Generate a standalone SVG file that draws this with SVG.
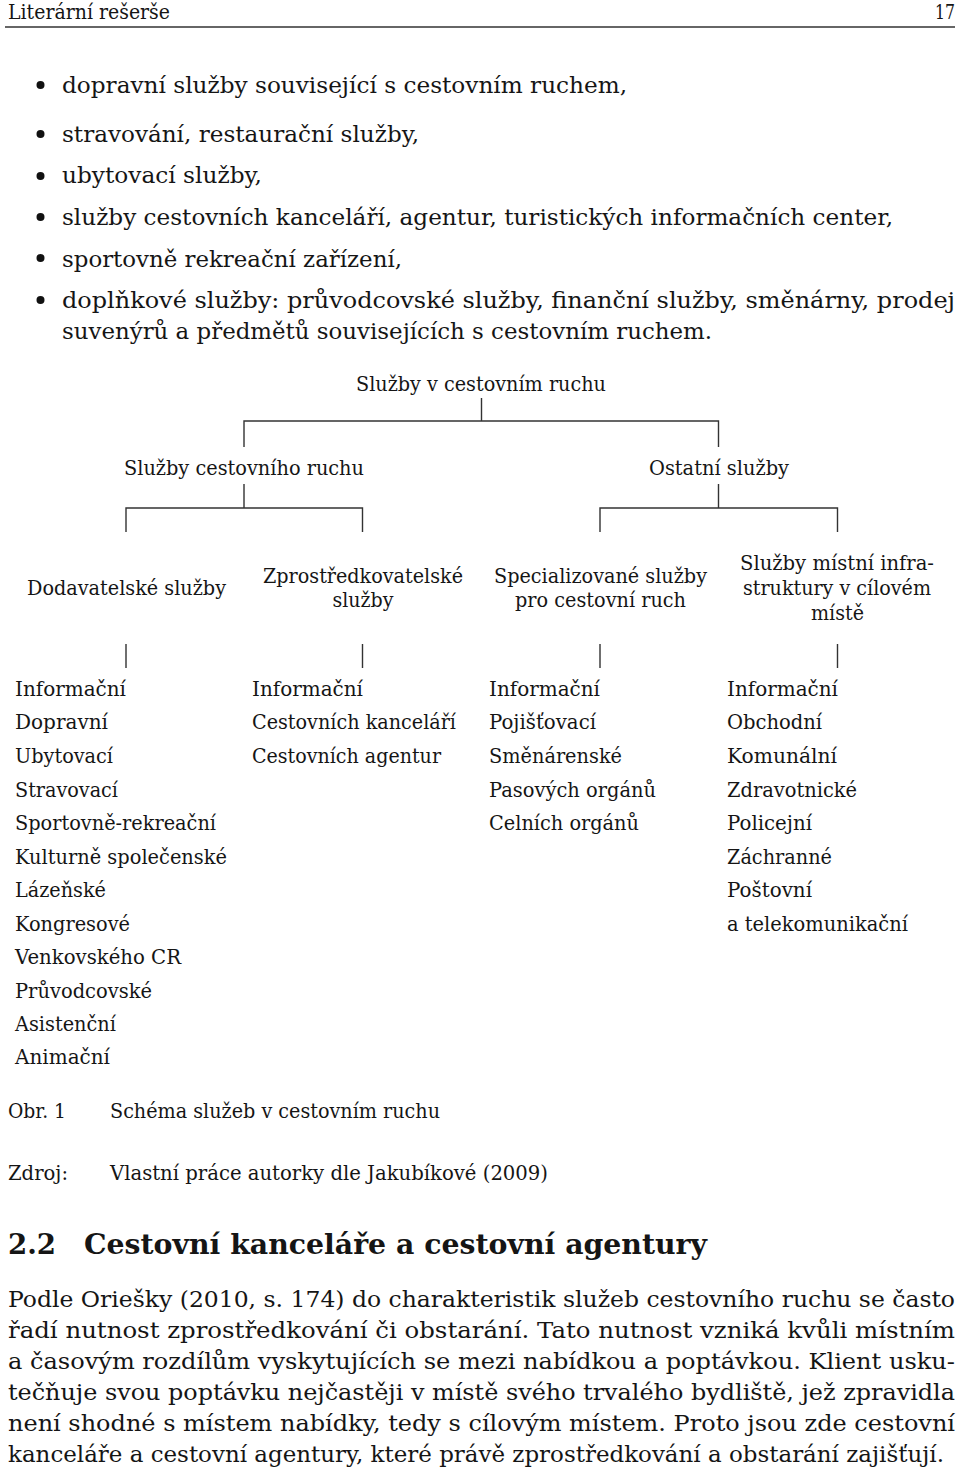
<svg xmlns="http://www.w3.org/2000/svg" width="960" height="1470" viewBox="0 0 960 1470">
<style>
text{font-family:"DejaVu Serif","Liberation Serif",serif;fill:#151515}
.hd{font-size:21px}
.b{font-size:23px}
.d{font-size:19.5px}
.dc{font-size:19.5px;text-anchor:middle}
.l{font-size:19.5px}
.h2{font-size:28px;font-weight:bold}
.p{font-size:23px}
.ln{stroke:#333;stroke-width:1.4;fill:none}
</style>
<rect width="960" height="1470" fill="#fff"/>
<g id="header">
<text class="hd" x="8" y="19" textLength="162" lengthAdjust="spacingAndGlyphs">Literární rešerše</text>
<text class="hd" x="955" y="19" text-anchor="end" textLength="20" lengthAdjust="spacingAndGlyphs">17</text>
<line x1="5" y1="27" x2="955" y2="27" stroke="#333" stroke-width="1.6"/>
</g>
<g id="bullets">
<circle cx="40.5" cy="85" r="4" fill="#111"/>
<circle cx="40.5" cy="134" r="4" fill="#111"/>
<circle cx="40.5" cy="176" r="4" fill="#111"/>
<circle cx="40.5" cy="217" r="4" fill="#111"/>
<circle cx="40.5" cy="258" r="4" fill="#111"/>
<circle cx="40.5" cy="300" r="4" fill="#111"/>
<text class="b" x="62" y="93" textLength="565" lengthAdjust="spacingAndGlyphs">dopravní služby související s cestovním ruchem,</text>
<text class="b" x="62" y="142" textLength="357" lengthAdjust="spacingAndGlyphs">stravování, restaurační služby,</text>
<text class="b" x="62" y="183" textLength="200" lengthAdjust="spacingAndGlyphs">ubytovací služby,</text>
<text class="b" x="62" y="225" textLength="831" lengthAdjust="spacingAndGlyphs">služby cestovních kanceláří, agentur, turistických informačních center,</text>
<text class="b" x="62" y="267" textLength="340" lengthAdjust="spacingAndGlyphs">sportovně rekreační zařízení,</text>
<text class="b" x="62" y="308" textLength="893" lengthAdjust="spacingAndGlyphs">doplňkové služby: průvodcovské služby, finanční služby, směnárny, prodej</text>
<text class="b" x="62" y="339" textLength="650" lengthAdjust="spacingAndGlyphs">suvenýrů a předmětů souvisejících s cestovním ruchem.</text>
</g>
<g id="connectors">
<path class="ln" d="M481.5 398V421M244 447V421H718.5V447"/>
<path class="ln" d="M244 484V508M126 532V508H362.5V532"/>
<path class="ln" d="M718.5 484V508M600 532V508H837.5V532"/>
<path class="ln" d="M126 644V668M362.5 644V668M600 644V668M837.5 644V668"/>
</g>
<g id="root">
<text class="dc" x="481" y="391" textLength="250" lengthAdjust="spacingAndGlyphs">Služby v cestovním ruchu</text>
</g>
<g id="n-cr">
<text class="dc" x="244" y="475" textLength="240" lengthAdjust="spacingAndGlyphs">Služby cestovního ruchu</text>
</g>
<g id="n-ostatni">
<text class="dc" x="719" y="475" textLength="140" lengthAdjust="spacingAndGlyphs">Ostatní služby</text>
</g>
<g id="n-dodavatelske">
<text class="dc" x="126.5" y="595" textLength="199" lengthAdjust="spacingAndGlyphs">Dodavatelské služby</text>
</g>
<g id="n-zprostredkovatelske">
<text class="dc" x="363" y="583" textLength="200" lengthAdjust="spacingAndGlyphs">Zprostředkovatelské</text>
<text class="dc" x="363" y="607" textLength="61" lengthAdjust="spacingAndGlyphs">služby</text>
</g>
<g id="n-specializovane">
<text class="dc" x="600.5" y="583" textLength="213" lengthAdjust="spacingAndGlyphs">Specializované služby</text>
<text class="dc" x="600.5" y="607" textLength="171" lengthAdjust="spacingAndGlyphs">pro cestovní ruch</text>
</g>
<g id="n-mistni">
<text class="dc" x="837" y="570" textLength="194" lengthAdjust="spacingAndGlyphs">Služby místní infra-</text>
<text class="dc" x="837" y="595" textLength="188" lengthAdjust="spacingAndGlyphs">struktury v cílovém</text>
<text class="dc" x="837.5" y="620" textLength="53" lengthAdjust="spacingAndGlyphs">místě</text>
</g>
<g id="list-dodavatelske">
<text class="l" x="15" y="696" textLength="111" lengthAdjust="spacingAndGlyphs">Informační</text>
<text class="l" x="15" y="729" textLength="93" lengthAdjust="spacingAndGlyphs">Dopravní</text>
<text class="l" x="15" y="763" textLength="98" lengthAdjust="spacingAndGlyphs">Ubytovací</text>
<text class="l" x="15" y="797" textLength="103" lengthAdjust="spacingAndGlyphs">Stravovací</text>
<text class="l" x="15" y="830" textLength="201" lengthAdjust="spacingAndGlyphs">Sportovně-rekreační</text>
<text class="l" x="15" y="864" textLength="212" lengthAdjust="spacingAndGlyphs">Kulturně společenské</text>
<text class="l" x="15" y="897" textLength="91" lengthAdjust="spacingAndGlyphs">Lázeňské</text>
<text class="l" x="15" y="931" textLength="115" lengthAdjust="spacingAndGlyphs">Kongresové</text>
<text class="l" x="15" y="964" textLength="166" lengthAdjust="spacingAndGlyphs">Venkovského CR</text>
<text class="l" x="15" y="998" textLength="137" lengthAdjust="spacingAndGlyphs">Průvodcovské</text>
<text class="l" x="15" y="1031" textLength="101" lengthAdjust="spacingAndGlyphs">Asistenční</text>
<text class="l" x="15" y="1064" textLength="95" lengthAdjust="spacingAndGlyphs">Animační</text>
</g>
<g id="list-zprostredkovatelske">
<text class="l" x="252" y="696" textLength="111" lengthAdjust="spacingAndGlyphs">Informační</text>
<text class="l" x="252" y="729" textLength="204" lengthAdjust="spacingAndGlyphs">Cestovních kanceláří</text>
<text class="l" x="252" y="763" textLength="189" lengthAdjust="spacingAndGlyphs">Cestovních agentur</text>
</g>
<g id="list-specializovane">
<text class="l" x="489" y="696" textLength="111" lengthAdjust="spacingAndGlyphs">Informační</text>
<text class="l" x="489" y="729" textLength="107" lengthAdjust="spacingAndGlyphs">Pojišťovací</text>
<text class="l" x="489" y="763" textLength="133" lengthAdjust="spacingAndGlyphs">Směnárenské</text>
<text class="l" x="489" y="797" textLength="167" lengthAdjust="spacingAndGlyphs">Pasových orgánů</text>
<text class="l" x="489" y="830" textLength="150" lengthAdjust="spacingAndGlyphs">Celních orgánů</text>
</g>
<g id="list-mistni">
<text class="l" x="727" y="696" textLength="111" lengthAdjust="spacingAndGlyphs">Informační</text>
<text class="l" x="727" y="729" textLength="95" lengthAdjust="spacingAndGlyphs">Obchodní</text>
<text class="l" x="727" y="763" textLength="110" lengthAdjust="spacingAndGlyphs">Komunální</text>
<text class="l" x="727" y="797" textLength="130" lengthAdjust="spacingAndGlyphs">Zdravotnické</text>
<text class="l" x="727" y="830" textLength="85" lengthAdjust="spacingAndGlyphs">Policejní</text>
<text class="l" x="727" y="864" textLength="105" lengthAdjust="spacingAndGlyphs">Záchranné</text>
<text class="l" x="727" y="897" textLength="85" lengthAdjust="spacingAndGlyphs">Poštovní</text>
<text class="l" x="727" y="931" textLength="181" lengthAdjust="spacingAndGlyphs">a telekomunikační</text>
</g>
<g id="caption">
<text class="d" x="8" y="1118" textLength="58" lengthAdjust="spacingAndGlyphs">Obr. 1</text>
<text class="d" x="110" y="1118" textLength="330" lengthAdjust="spacingAndGlyphs">Schéma služeb v cestovním ruchu</text>
<text class="d" x="8" y="1180" textLength="60" lengthAdjust="spacingAndGlyphs">Zdroj:</text>
<text class="d" x="110" y="1180" textLength="438" lengthAdjust="spacingAndGlyphs">Vlastní práce autorky dle Jakubíkové (2009)</text>
</g>
<g id="heading">
<text class="h2" x="8" y="1254" textLength="48" lengthAdjust="spacingAndGlyphs">2.2</text>
<text class="h2" x="84" y="1254" textLength="623" lengthAdjust="spacingAndGlyphs">Cestovní kanceláře a cestovní agentury</text>
</g>
<g id="paragraph">
<text class="p" x="8" y="1307" textLength="947" lengthAdjust="spacingAndGlyphs">Podle Oriešky (2010, s. 174) do charakteristik služeb cestovního ruchu se často</text>
<text class="p" x="8" y="1338" textLength="947" lengthAdjust="spacingAndGlyphs">řadí nutnost zprostředkování či obstarání. Tato nutnost vzniká kvůli místním</text>
<text class="p" x="8" y="1369" textLength="947" lengthAdjust="spacingAndGlyphs">a časovým rozdílům vyskytujících se mezi nabídkou a poptávkou. Klient usku-</text>
<text class="p" x="8" y="1400" textLength="947" lengthAdjust="spacingAndGlyphs">tečňuje svou poptávku nejčastěji v místě svého trvalého bydliště, jež zpravidla</text>
<text class="p" x="8" y="1431" textLength="947" lengthAdjust="spacingAndGlyphs">není shodné s místem nabídky, tedy s cílovým místem. Proto jsou zde cestovní</text>
<text class="p" x="8" y="1462" textLength="936" lengthAdjust="spacingAndGlyphs">kanceláře a cestovní agentury, které právě zprostředkování a obstarání zajišťují.</text>
</g>
</svg>
